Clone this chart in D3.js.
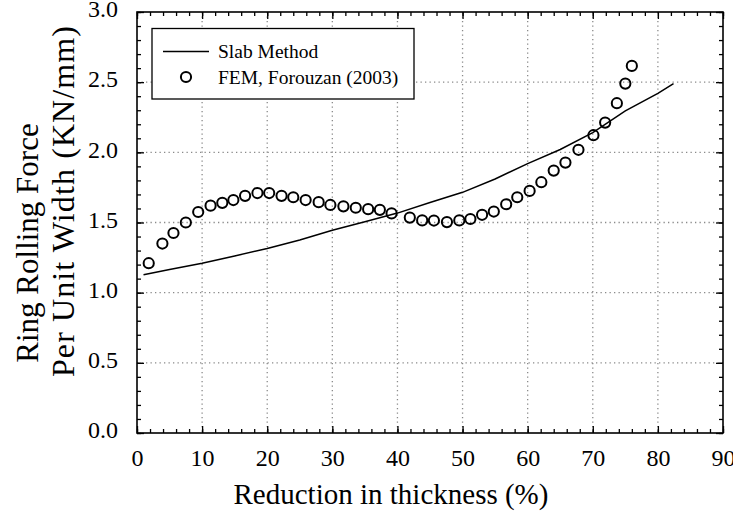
<!DOCTYPE html>
<html>
<head>
<meta charset="utf-8">
<script src="https://cdn.jsdelivr.net/npm/d3@7/dist/d3.min.js"></script>
<style>
  html, body { margin: 0; padding: 0; background: #fff; }
  svg { display: block; }
  svg text { font-family: "Liberation Serif", Tinos, "Times New Roman", Times, "DejaVu Serif", serif !important; fill: #000; }
</style>
</head>
<body>
<svg id="chart" width="733" height="527"></svg>
<script>
// Slab method prediction (solid line)
const slabReduction = [1, 5, 10, 15, 20, 25, 30, 35, 40, 45, 50, 55, 60, 65, 70, 75, 80, 82.4];
const slabForce     = [1.127, 1.165, 1.21, 1.262, 1.315, 1.375, 1.445, 1.505, 1.567, 1.643, 1.715, 1.81, 1.92, 2.02, 2.14, 2.295, 2.42, 2.49];

// FEM results, Forouzan (2003) (open circles)
const femReduction = [1.8, 3.9, 5.6, 7.5, 9.4, 11.3, 13.1, 14.8, 16.6, 18.5, 20.3, 22.2, 24.0, 25.9, 27.9, 29.7, 31.7, 33.6, 35.5, 37.3, 39.1,
                      41.9, 43.8, 45.6, 47.6, 49.5, 51.2, 53.0, 54.8, 56.7, 58.4, 60.3, 62.1, 64.0, 65.8, 67.8, 70.1, 71.9, 73.7, 75.0, 76.0];
const femForce     = [1.21, 1.35, 1.425, 1.50, 1.575, 1.62, 1.64, 1.66, 1.69, 1.71, 1.71, 1.69, 1.68, 1.66, 1.645, 1.625, 1.615, 1.605, 1.595, 1.59, 1.565,
                      1.535, 1.515, 1.514, 1.503, 1.515, 1.525, 1.555, 1.578, 1.63, 1.68, 1.725, 1.787, 1.87, 1.927, 2.018, 2.122, 2.212, 2.35, 2.49, 2.616];

const xTicks = [0, 10, 20, 30, 40, 50, 60, 70, 80, 90];
const yTicks = [0, 0.5, 1.0, 1.5, 2.0, 2.5, 3.0];
const legendLabels = ["Slab Method", "FEM, Forouzan (2003)"];

const serif = '"Liberation Serif", Tinos, "Times New Roman", Times, "DejaVu Serif", serif';
const svg = d3.select("#chart").attr("font-family", serif);
const plotL = 137, plotR = 723, plotT = 12, plotB = 433;

const x = d3.scaleLinear().domain([0, 90]).range([plotL, plotR]);
const y = d3.scaleLinear().domain([0, 3]).range([plotB, plotT]);

// dotted grid at major ticks
const grid = svg.append("g").attr("stroke", "#8a8a8a").attr("stroke-width", 1.3).attr("stroke-dasharray", "1.3,3.2");
grid.selectAll("line.gx").data(xTicks.slice(1, -1)).join("line").attr("class", "gx")
  .attr("x1", d => x(d)).attr("x2", d => x(d)).attr("y1", plotT).attr("y2", plotB);
grid.selectAll("line.gy").data(yTicks.slice(1, -1)).join("line").attr("class", "gy")
  .attr("y1", d => y(d)).attr("y2", d => y(d)).attr("x1", plotL).attr("x2", plotR);

// inward ticks on all four sides
const xMinor = d3.range(0, 90.001, 2);
const yMinor = d3.range(0, 3.0001, 0.1);
const fmtY = d3.format(".1f");

function axisSet(axisFn, scale, major, minor, transform, fmt, showLabels) {
  const gMinor = svg.append("g").attr("transform", transform)
    .call(axisFn(scale).tickValues(minor).tickSizeInner(-4).tickSizeOuter(0).tickFormat(""));
  gMinor.select(".domain").remove();
  const gMajor = svg.append("g").attr("transform", transform)
    .call(axisFn(scale).tickValues(major).tickSizeInner(-7).tickSizeOuter(0).tickFormat(showLabels ? fmt : ""));
  gMajor.select(".domain").remove();
  [gMinor, gMajor].forEach(g => g.attr("font-family", serif).selectAll(".tick line").attr("stroke", "#000").attr("stroke-width", 1.3));
  return gMajor;
}

const gx = axisSet(d3.axisBottom, x, xTicks, xMinor, `translate(0,${plotB})`, d3.format("d"), true);
gx.attr("font-size", 24);
gx.selectAll(".tick text").attr("y", 16).attr("dy", "0.71em");
axisSet(d3.axisTop, x, xTicks, xMinor, `translate(0,${plotT})`, null, false);
const gy = axisSet(d3.axisLeft, y, yTicks, yMinor, `translate(${plotL},0)`, fmtY, true);
gy.attr("font-size", 24);
gy.selectAll(".tick text").attr("x", -19).attr("dy", "0.2em");
axisSet(d3.axisRight, y, yTicks, yMinor, `translate(${plotR},0)`, null, false);

// frame
svg.append("rect").attr("x", plotL).attr("y", plotT).attr("width", plotR - plotL).attr("height", plotB - plotT)
  .attr("fill", "none").attr("stroke", "#000").attr("stroke-width", 1.6);

// slab line
const slab = slabReduction.map((r, i) => [r, slabForce[i]]);
svg.append("path").datum(slab)
  .attr("fill", "none").attr("stroke", "#000").attr("stroke-width", 1.5)
  .attr("d", d3.line().x(d => x(d[0])).y(d => y(d[1])));

// FEM circles
const fem = femReduction.map((r, i) => [r, femForce[i]]);
svg.append("g").selectAll("circle").data(fem).join("circle")
  .attr("cx", d => x(d[0])).attr("cy", d => y(d[1])).attr("r", 5.1)
  .attr("fill", "none").attr("stroke", "#000").attr("stroke-width", 2);

// legend
const lg = svg.append("g");
lg.append("rect").attr("x", 152).attr("y", 28.5).attr("width", 262).attr("height", 70.5)
  .attr("fill", "#fff").attr("stroke", "#000").attr("stroke-width", 1.3);
lg.append("line").attr("x1", 163).attr("x2", 209).attr("y1", 51.5).attr("y2", 51.5)
  .attr("stroke", "#000").attr("stroke-width", 1.5);
lg.append("circle").attr("cx", 186).attr("cy", 77).attr("r", 5.1)
  .attr("fill", "none").attr("stroke", "#000").attr("stroke-width", 2);
lg.selectAll("text").data(legendLabels).join("text")
  .attr("x", 218).attr("y", (d, i) => 58 + i * 25.5)
  .attr("font-size", 19.5).text(d => d);

// axis titles
svg.append("text").attr("x", 391).attr("y", 504).attr("text-anchor", "middle")
  .attr("font-size", 29).text("Reduction in thickness (%)");
svg.append("text").attr("transform", "translate(38,243) rotate(-90)").attr("text-anchor", "middle")
  .attr("font-size", 31).text("Ring Rolling Force");
svg.append("text").attr("transform", "translate(73.5,201) rotate(-90)").attr("text-anchor", "middle")
  .attr("font-size", 32).attr("letter-spacing", 1.1).text("Per Unit Width (KN/mm)");
</script>
</body>
</html>
